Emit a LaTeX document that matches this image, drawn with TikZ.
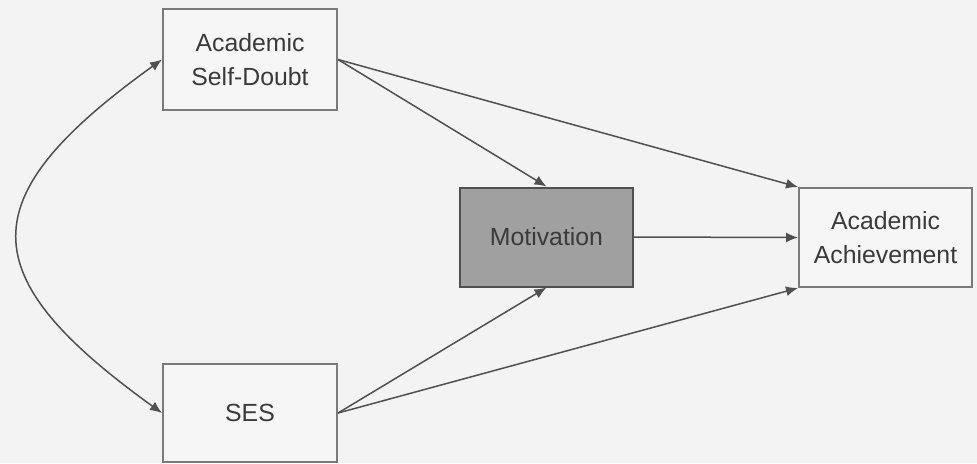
\documentclass[tikz,border=0pt]{standalone}
\usepackage{fontspec}
\setmainfont{Liberation Sans}
\usetikzlibrary{arrows.meta}
\definecolor{pagebg}{HTML}{F3F3F3}
\definecolor{boxbg}{HTML}{F6F6F6}
\definecolor{edgegray}{HTML}{505050}
\definecolor{boxline}{HTML}{7A7A7A}
\definecolor{textgray}{HTML}{3A3A3A}
\definecolor{mediator}{HTML}{A0A0A0}
\begin{document}
\begin{tikzpicture}[x=0.5pt,y=-0.5pt,
  var/.style={draw=boxline,line width=1pt,fill=boxbg,inner sep=0pt,
    text=textgray,align=center,
    font=\fontsize{12.4}{17}\selectfont},
  path/.style={draw=edgegray,line width=0.75pt,
    -{Latex[length=6pt,width=5pt]}},
  corr/.style={draw=edgegray,line width=0.75pt,
    {Latex[length=6pt,width=5pt]}-{Latex[length=6pt,width=5pt]}}]
  % page and extent
  \fill[pagebg] (0,0) rectangle (977,463);
  \useasboundingbox (0,0) rectangle (977,463);

  % variables
  \node[var,minimum width=87pt,minimum height=50.5pt] (sd)  at (250,59.5) {Academic\\Self-Doubt};
  \node[var,minimum width=87pt,minimum height=49pt]   (ses) at (250,413)  {SES};
  \node[var,fill=mediator,draw=edgegray,minimum width=86.5pt,minimum height=49.5pt] (mot) at (546.5,237) {Motivation};
  \node[var,minimum width=86.5pt,minimum height=49.5pt] (ach) at (885.5,237.5) {Academic\\Achievement};

  % paths
  \draw[path] (sd.east)  -- (mot.north);
  \draw[path] (sd.east)  -- (ach.north west);
  \draw[path] (mot.east) -- (ach.west);
  \draw[path] (ses.east) -- (mot.south);
  \draw[path] (ses.east) -- (ach.south west);

  % correlation between the exogenous variables
  \draw[corr] (ses.west) .. controls +(-192,-138) and +(-192,138) .. (sd.west);
\end{tikzpicture}
\end{document}
